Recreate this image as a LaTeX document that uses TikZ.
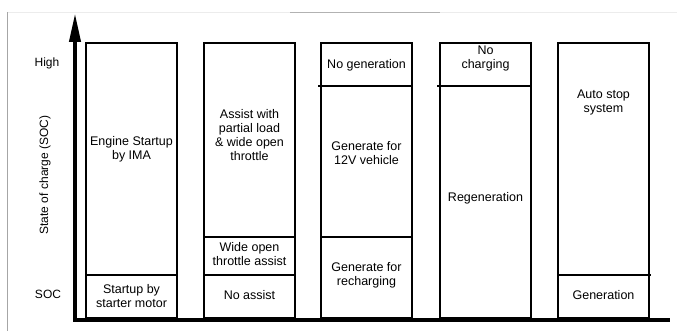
\documentclass[tikz,border=0pt]{standalone}
\usepackage{fontspec}
\setmainfont{Liberation Sans}
\usetikzlibrary{arrows.meta}

\begin{document}
\begin{tikzpicture}[x=1pt,y=-1pt,
    cell/.style={draw=black,line width=1.2pt},
    lbl/.style={align=center,inner sep=0pt,font=\fontsize{12.5}{14}\selectfont},
    side/.style={inner sep=0pt,font=\fontsize{12}{14}\selectfont}]
    \useasboundingbox (0,0) rectangle (677,331);

    % frame remains
    \draw[gray!15,line width=0.8pt] (7,12) -- (677,12);
    \draw[gray!60,line width=0.8pt] (290,12) -- (440,12);
    \draw[gray!70,line width=0.8pt] (7,12) -- (7,331);

    % columns
    \draw[cell] (86,43) rectangle (177,318);
    \draw[cell] (86,275) -- (177,275);
    \draw[cell] (204,43) rectangle (295,318);
    \draw[cell] (204,237) -- (295,237);
    \draw[cell] (204,275) -- (295,275);
    \draw[cell] (321,43) rectangle (412,318);
    \draw[cell] (318,86) -- (412,86);
    \draw[cell] (321,237) -- (412,237);
    \draw[cell] (440,43) rectangle (531,318);
    \draw[cell] (437,86) -- (531,86);
    \draw[cell] (558,43) rectangle (649,318);
    \draw[cell] (558,275) -- (651,275);

    % axes
    \coordinate (ytip) at (75,13);
    \coordinate (origin) at (75,320);
    \coordinate (xend) at (670,320);
    \draw[line width=4pt,{Triangle[length=29pt,width=11pt]}-] (ytip) -- (origin) -- (xend);

    \node[side] (high) at (47,63) {High};
    \node[side] (soc) at (48,294) {SOC};
    \node[side,rotate=90] (socaxis) at (45,175) {State of charge (SOC)};

    % texts
    \node[lbl] (startima) at (131.5,149) {Engine Startup\\by IMA};
    \node[lbl] (startmotor) at (131.5,296) {Startup by\\starter motor};
    \node[lbl] (assistwot) at (249.5,135) {Assist with\\partial load\\\& wide open\\throttle};
    \node[lbl] (wotassist) at (249.5,254) {Wide open\\throttle assist};
    \node[lbl] (noassist) at (249.5,295) {No assist};
    \node[lbl] (nogen) at (366.5,65) {No generation};
    \node[lbl] (gen12v) at (366.5,153) {Generate for\\12V vehicle};
    \node[lbl] (genrech) at (366.5,275) {Generate for\\recharging};
    \node[lbl] (nochg) at (485.5,58) {No\\charging};
    \node[lbl] (regen) at (485.5,198) {Regeneration};
    \node[lbl] (autostop) at (603.5,102) {Auto stop\\system};
    \node[lbl] (gen) at (603.5,295) {Generation};
\end{tikzpicture}
\end{document}
